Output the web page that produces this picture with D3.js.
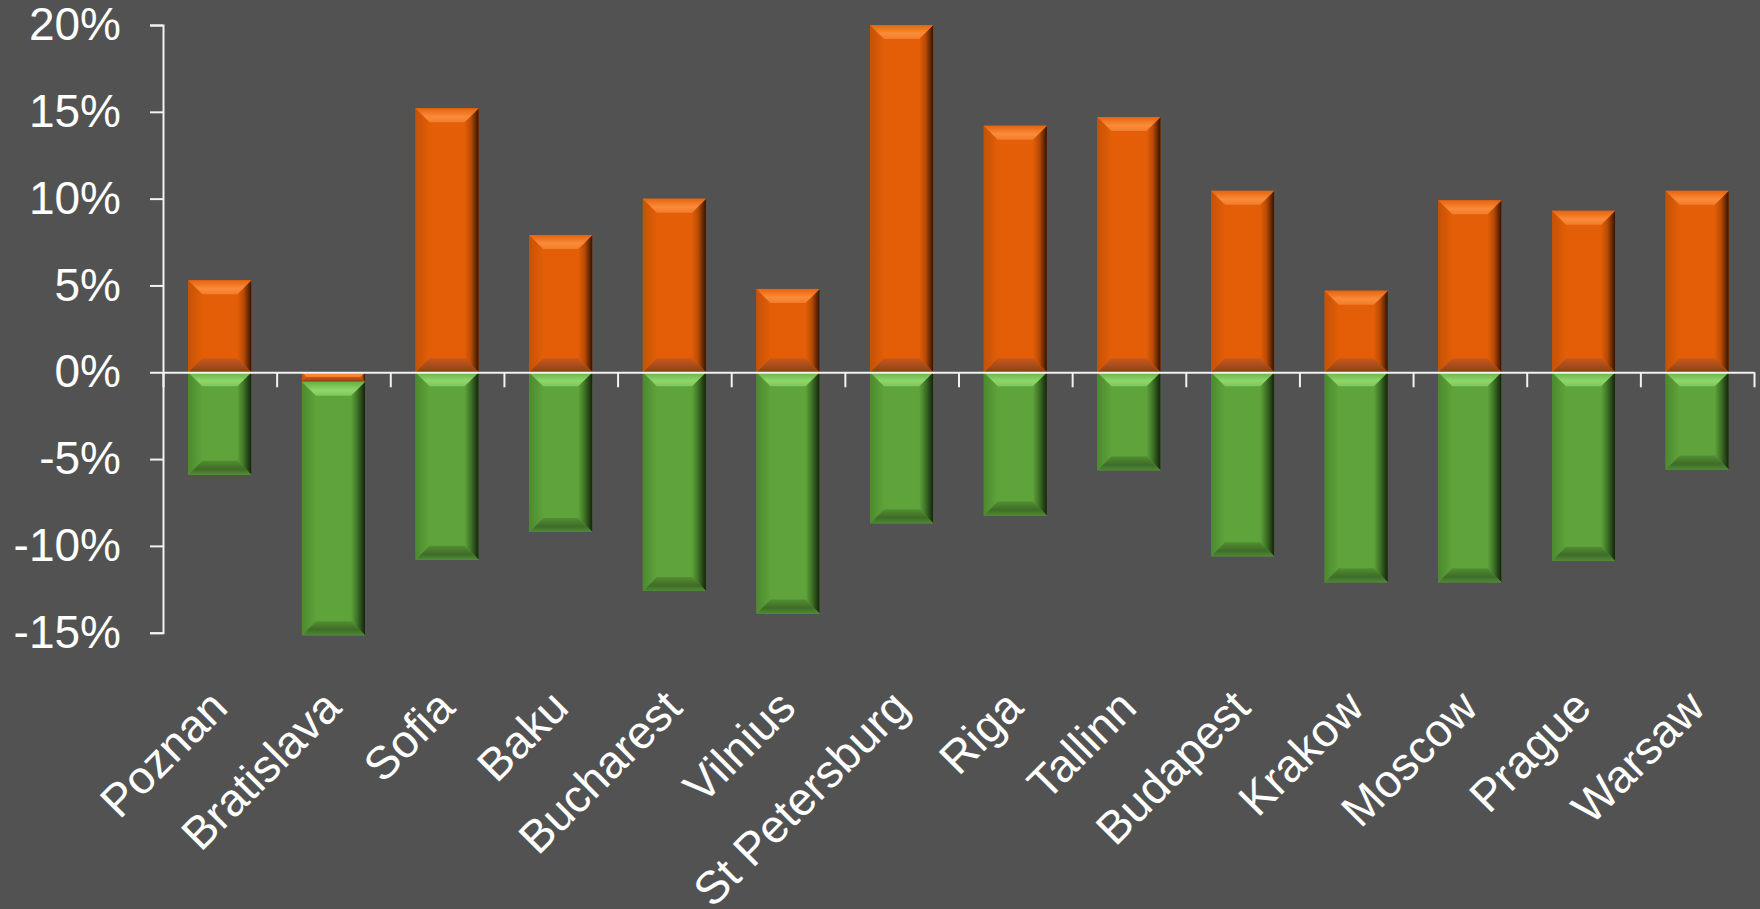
<!DOCTYPE html>
<html>
<head>
<meta charset="utf-8">
<script src="https://cdn.jsdelivr.net/npm/d3@7"></script>
<style>
  html, body { margin: 0; padding: 0; background: #525252; }
  svg { display: block; }
  text { font-family: "Liberation Sans", Arial, sans-serif; fill: #ffffff; }
</style>
</head>
<body>
<svg id="chart" width="1760" height="909"></svg>
<script>
// ---- data ----
const categories = ["Poznan", "Bratislava", "Sofia", "Baku", "Bucharest", "Vilnius", "St Petersburg",
  "Riga", "Tallinn", "Budapest", "Krakow", "Moscow", "Prague", "Warsaw"];
const orangeValues = [5.3, -0.55, 15.2, 7.9, 10.0, 4.8, 20.0, 14.2, 14.7, 10.45, 4.7, 9.9, 9.3, 10.45];
const greenValues = [-5.9, -14.6, -10.8, -9.2, -12.6, -13.9, -8.7, -8.25, -5.65, -10.6, -12.1, -12.1, -10.85, -5.6];
const yTicks = [-15, -10, -5, 0, 5, 10, 15, 20];
const seriesKeys = ["orange", "green"];

// ---- layout ----
const svg = d3.select("#chart");
const W = 1760, H = 909;
svg.append("rect").attr("width", W).attr("height", H).attr("fill", "#525252");

const xLeft = 163, xRight = 1754, yTop = 25, yBottom = 632.7;

const x = d3.scaleBand().domain(categories).range([xLeft, xRight]).paddingInner(0.445).paddingOuter(0.2225);
const xEdge = d3.scaleLinear().domain([0, categories.length]).range([xLeft, xRight]);
const y = d3.scaleLinear().domain([-15, 20]).range([yBottom, yTop]);

const rows = categories.map((c, i) => ({ cat: c, orange: orangeValues[i], green: greenValues[i] }));
const stacked = d3.stack().keys(seriesKeys).offset(d3.stackOffsetDiverging)(rows);

// ---- gradients ----
const defs = svg.append("defs");
const palettes = {
  orange: {
    main: "#E35E06",
    top: [["0", "#E6640E"], ["0.6", "#FA8B3B"], ["1", "#F27D2A"]],
    bottom: [["0", "#C8581A"], ["0.5", "#A94D1C"], ["1", "#8E3E10"]],
    right: [["0", "#E35E06"], ["0.45", "#B84B06"], ["1", "#321302"]],
    left: [["0", "#C45208"], ["1", "#E35E06"]]
  },
  green: {
    main: "#5FA33B",
    top: [["0", "#69B143"], ["0.6", "#8ED66B"], ["1", "#7DC85A"]],
    bottom: [["0", "#528E32"], ["0.6", "#3F6C28"], ["1", "#4E8A34"]],
    right: [["0", "#5FA33B"], ["0.45", "#3E7326"], ["1", "#14220C"]],
    left: [["0", "#4C8A2E"], ["1", "#5FA33B"]]
  }
};
function grad(id, stops, vertical) {
  const g = defs.append("linearGradient").attr("id", id)
    .attr("x1", 0).attr("y1", 0).attr("x2", vertical ? 0 : 1).attr("y2", vertical ? 1 : 0);
  stops.forEach(s => g.append("stop").attr("offset", s[0]).attr("stop-color", s[1]));
}
Object.entries(palettes).forEach(([k, p]) => {
  grad(k + "-top", p.top, true);
  grad(k + "-bottom", p.bottom, true);
  grad(k + "-right", p.right, false);
  grad(k + "-left", p.left, false);
});

// ---- bars ----
const barsG = svg.append("g");
stacked.forEach(layer => {
  const key = layer.key;
  const pal = palettes[key];
  layer.forEach((d, i) => {
    const x0 = x(categories[i]);
    const w = x.bandwidth();
    const yA = y(Math.max(d[0], d[1]));
    const yB = y(Math.min(d[0], d[1]));
    const h = yB - yA;
    if (h <= 0) return;
    const b = Math.min(14, h / 2, w / 2);
    const g = barsG.append("g");
    g.append("rect").attr("x", x0).attr("y", yA).attr("width", w).attr("height", h).attr("fill", pal.main);
    const poly = (pts, fill) => g.append("polygon").attr("points", pts.map(p => p.join(",")).join(" ")).attr("fill", fill);
    poly([[x0, yA], [x0 + b, yA + b], [x0 + b, yB - b], [x0, yB]], `url(#${key}-left)`);
    poly([[x0 + w, yA], [x0 + w - b, yA + b], [x0 + w - b, yB - b], [x0 + w, yB]], `url(#${key}-right)`);
    poly([[x0, yA], [x0 + w, yA], [x0 + w - b, yA + b], [x0 + b, yA + b]], `url(#${key}-top)`);
    poly([[x0, yB], [x0 + w, yB], [x0 + w - b, yB - b], [x0 + b, yB - b]], `url(#${key}-bottom)`);
  });
});

// ---- axes ----
const axisColor = "#f2f2f2";
const yAxis = svg.append("g").attr("transform", `translate(${xLeft},0)`)
  .call(d3.axisLeft(y).tickValues(yTicks).tickSize(13).tickSizeOuter(13).tickPadding(29)
    .tickFormat(v => v + "%"));
yAxis.selectAll("path, line").attr("stroke", axisColor).attr("stroke-width", 2);
yAxis.selectAll("text").attr("font-size", 46).attr("fill", "#ffffff")
  .attr("font-family", '"Liberation Sans", Arial, sans-serif');

const xAxis = svg.append("g").attr("transform", `translate(0,${y(0)})`)
  .call(d3.axisBottom(xEdge).tickValues(d3.range(categories.length + 1)).tickSize(15).tickSizeOuter(0).tickFormat(""));
xAxis.selectAll("path, line").attr("stroke", axisColor).attr("stroke-width", 2);

// ---- category labels ----
svg.append("g").selectAll("text").data(categories).join("text")
  .attr("transform", d => `translate(${x(d) + x.bandwidth() / 2 + 10},710) rotate(-45)`)
  .attr("text-anchor", "end")
  .attr("font-size", 46)
  .text(d => d);
</script>
</body>
</html>
